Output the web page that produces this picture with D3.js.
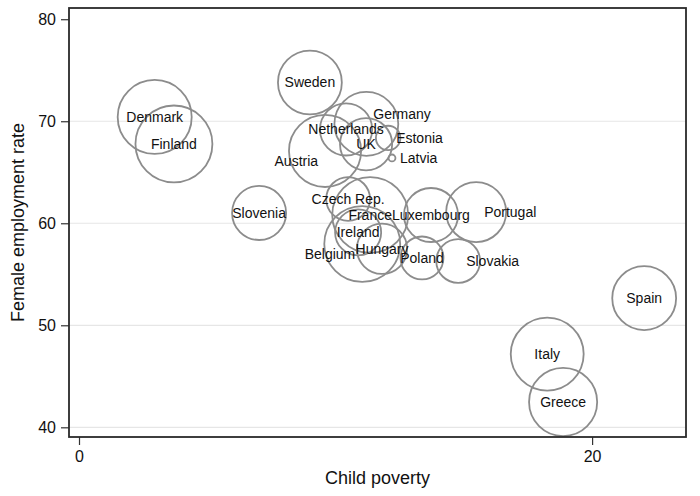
<!DOCTYPE html>
<html>
<head>
<meta charset="utf-8">
<script src="https://cdn.jsdelivr.net/npm/d3@7"></script>
<style>
  html, body { margin: 0; padding: 0; background: #fff; }
  svg { display: block; font-family: "Liberation Sans", Arial, sans-serif; }
</style>
</head>
<body>
<svg id="chart" width="700" height="496"></svg>
<script>
// ---- data ----
const countries = ["Denmark","Finland","Sweden","Slovenia","Netherlands","Germany","UK","Estonia","Latvia","Austria",
                   "Czech Rep.","France","Ireland","Belgium","Hungary","Luxembourg","Poland","Portugal","Slovakia",
                   "Spain","Italy","Greece"];
const childPoverty = [2.95, 3.7, 9.0, 7.02, 10.41, 11.2, 11.19, 12.05, 12.2, 9.59,
                      10.49, 11.35, 10.88, 11.04, 11.81, 13.72, 13.37, 15.48, 14.78,
                      22.03, 18.25, 18.87];
const femaleEmployment = [70.42, 67.77, 73.8, 61.01, 69.2, 69.74, 67.75, 68.36, 66.4, 67.09,
                          62.38, 60.81, 59.1, 57.97, 57.5, 60.81, 56.6, 61.1, 56.3,
                          52.66, 47.18, 42.48];
const weight = [13.7, 14.8, 10.2, 7.3, 6.8, 10.2, 6.8, 1.5, 0.12, 13.0,
                4.8, 14.4, 5.3, 14.4, 6.3, 7.3, 4.6, 9.0, 4.8,
                10.2, 13.3, 11.6];
// label clock positions (0 = centred, 3 = right, 2 = upper right, 8 = lower left)
const labelPos = [0,0,0,0,0,2,0,3,3,8,
                  0,0,0,8,0,0,0,3,3,
                  0,0,0];
const xTicks = [0, 20];
const yTicks = [40, 50, 60, 70, 80];
const xTitle = "Child poverty";
const yTitle = "Female employment rate";

// ---- layout ----
const svg = d3.select("#chart");
const plot = { left: 69, right: 686, top: 8, bottom: 437 };

const x = d3.scaleLinear().domain([-0.39, 23.66]).range([plot.left, plot.right]);
const y = d3.scaleLinear().domain([39.05, 81.1]).range([plot.bottom, plot.top]);
const r = d3.scaleSqrt().domain([0, 16]).range([0, 40]);

// gridlines
svg.append("g")
  .selectAll("line")
  .data(yTicks.filter(d => d < 80))
  .join("line")
  .attr("x1", plot.left).attr("x2", plot.right)
  .attr("y1", d => y(d)).attr("y2", d => y(d))
  .attr("stroke", "#e6e6e6").attr("stroke-width", 1.2);

// bubbles
const data = countries.map((c, i) => ({
  name: c, x: childPoverty[i], y: femaleEmployment[i], w: weight[i], pos: labelPos[i]
}));

svg.append("g")
  .selectAll("circle")
  .data(data)
  .join("circle")
  .attr("cx", d => x(d.x))
  .attr("cy", d => y(d.y))
  .attr("r", d => r(d.w))
  .attr("fill", "none")
  .attr("stroke", "#8c8c8c")
  .attr("stroke-width", 1.8);

// labels
const gap = 8;
svg.append("g")
  .selectAll("text")
  .data(data)
  .join("text")
  .each(function(d) {
    const t = d3.select(this);
    let dx = 0, dy = 0, anchor = "middle";
    if (d.pos !== 0) {
      const a = d.pos * Math.PI / 6;
      dx = gap * Math.sin(a);
      dy = -gap * Math.cos(a);
      if (Math.abs(dx) > 0.5) anchor = dx > 0 ? "start" : "end";
      if (dy < -0.5) dy -= 6;
      if (dy > 0.5) dy += 6;
    }
    t.attr("x", x(d.x) + dx)
     .attr("y", y(d.y) + dy)
     .attr("text-anchor", anchor)
     .attr("dominant-baseline", "central");
  })
  .attr("font-size", 14)
  .attr("fill", "#111")
  .text(d => d.name);

// axes
const xAxis = d3.axisBottom(x).tickValues(xTicks).tickSize(8).tickPadding(6).tickFormat(d3.format("d"));
const yAxis = d3.axisLeft(y).tickValues(yTicks).tickSize(8).tickPadding(5).tickFormat(d3.format("d"));

const gx = svg.append("g").attr("transform", `translate(0,${plot.bottom})`).call(xAxis);
const gy = svg.append("g").attr("transform", `translate(${plot.left},0)`).call(yAxis);
[gx, gy].forEach(g => {
  g.select(".domain").remove();
  g.selectAll(".tick line").attr("stroke", "#333").attr("stroke-width", 1.2);
  g.selectAll(".tick text").attr("font-size", 16).attr("fill", "#111")
    .attr("font-family", "'Liberation Sans', Arial, sans-serif");
});

// frame
svg.append("rect")
  .attr("x", plot.left).attr("y", plot.top)
  .attr("width", plot.right - plot.left).attr("height", plot.bottom - plot.top)
  .attr("fill", "none").attr("stroke", "#2a2a2a").attr("stroke-width", 1.8);

// titles
svg.append("text")
  .attr("x", (plot.left + plot.right) / 2).attr("y", 484)
  .attr("text-anchor", "middle").attr("font-size", 18).attr("fill", "#111")
  .text(xTitle);
svg.append("text")
  .attr("transform", `translate(24,${(plot.top + plot.bottom) / 2}) rotate(-90)`)
  .attr("text-anchor", "middle").attr("font-size", 18).attr("fill", "#111")
  .text(yTitle);
</script>
</body>
</html>
